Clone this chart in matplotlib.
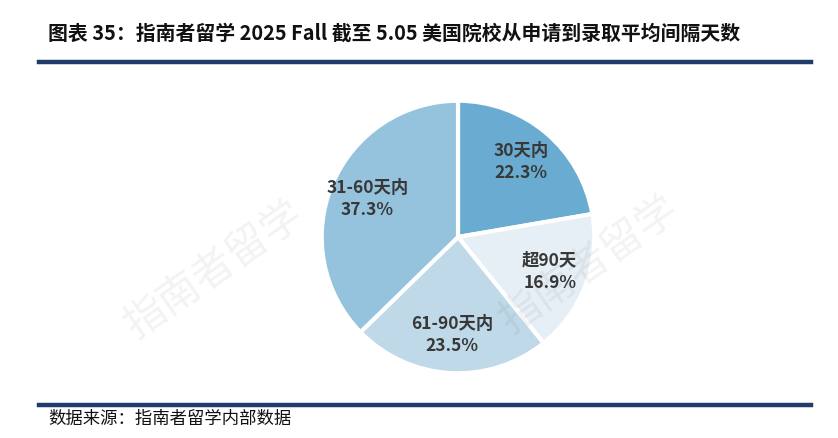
import matplotlib.pyplot as plt
from matplotlib.lines import Line2D

plt.rcParams['font.family'] = ['Noto Sans CJK SC', 'DejaVu Sans']

NAVY  = '#213B6C'
TEXT  = '#383838'
BLACK = '#111111'

# 数据
labels = ['30天内', '超90天', '61-90天内', '31-60天内']
shares = [22.3, 16.9, 23.5, 37.3]
colors = ['#6AABD2', '#E6EFF5', '#BFD9E8', '#95C2DD']

fig = plt.figure(figsize=(8.38, 4.38), dpi=100)
fig.patch.set_facecolor('white')

# ── 标题 ──
fig.text(48 / 838, 1 - 33 / 438,
         '图表 35：指南者留学 2025 Fall 截至 5.05 美国院校从申请到录取平均间隔天数',
         fontsize=14.3, fontweight='bold', color=BLACK, va='center', ha='left')

# 上下分隔线
for ypx in (62, 405):
    fig.add_artist(Line2D([39 / 838, 811 / 838], [1 - ypx / 438, 1 - ypx / 438],
                          color=NAVY, linewidth=3.2, transform=fig.transFigure))

fig.text(48 / 838, 1 - 419 / 438, '数据来源：指南者留学内部数据',
         fontsize=12.5, color=BLACK, va='center', ha='left')

# 水印
for (xp, yp) in [(215, 270), (590, 265)]:
    fig.text(xp / 838, 1 - yp / 438, '指南者留学', fontsize=30, color='#000000',
             alpha=0.05, rotation=35, ha='center', va='center')

# ── 饼图 ──
cx, cy, r = 458 / 838, 1 - 237 / 438, 139
ax = fig.add_axes([cx - r / 838, cy - r / 438, 2 * r / 838, 2 * r / 438])
it = iter(labels)
wedges, texts, autotexts = ax.pie(
    shares, colors=colors, startangle=90, counterclock=False,
    autopct=lambda p: f'{next(it)}\n{p:.1f}%', pctdistance=0.72,
    wedgeprops=dict(edgecolor='white', linewidth=3, joinstyle='round'),
    textprops=dict(fontsize=12.5, color=TEXT, fontweight='bold', linespacing=1.3))
for t in autotexts:
    t.set_ha('center')
ax.set_xlim(-1.02, 1.02)
ax.set_ylim(-1.02, 1.02)
ax.set_aspect('equal')

fig.savefig('out.png', dpi=100, facecolor='white')
